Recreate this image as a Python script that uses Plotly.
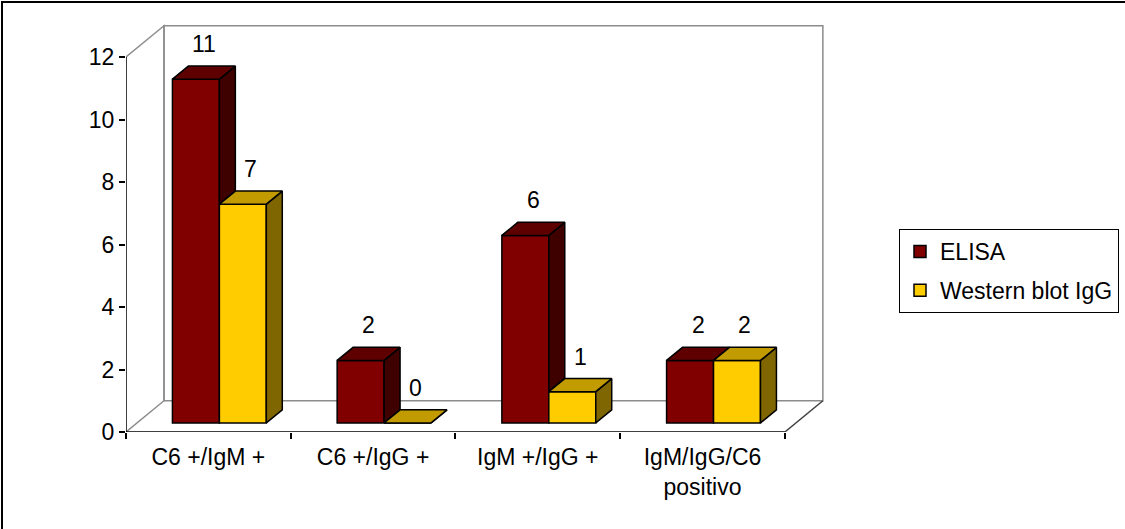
import plotly.graph_objects as go

# ---- data ----
categories = ["C6 +/IgM +", "C6 +/IgG +", "IgM +/IgG +", "IgM/IgG/C6<br>positivo"]
elisa = [11, 2, 6, 2]
western = [7, 0, 1, 2]
y_ticks = [0, 2, 4, 6, 8, 10, 12]

# ---- look ----
FONT = "Liberation Sans, Arial, sans-serif"
FS = 23
RED = dict(front="#800000", top="#5e0000", side="#3f0000")
YEL = dict(front="#FFCC00", top="#C29B00", side="#806600")
WALL = "#8c8c8c"

W, H = 1125, 529
ML, MR, MT, MB = 126, 295, 15, 97
X_RANGE = [-0.5, 3.774]
Y_RANGE = [0, 13.344]

# pseudo-3D depth of the floor (x in category units, y in value units)
DEPTH_X, DEPTH_Y = 0.2307, 1.0
FRONT, BACK = 0.29, 0.71          # bars sit between these depth fractions
BW = 0.285                         # width of one bar

n = len(categories)
ymax = y_ticks[-1]
shift = FRONT * DEPTH_X
base = FRONT * DEPTH_Y
ddx = (BACK - FRONT) * DEPTH_X
ddy = (BACK - FRONT) * DEPTH_Y
bx = [i + shift for i in range(n)]


def top_face(x0, x1, y):
    return [x0, x1, x1 + ddx, x0 + ddx, x0, None], [y, y, y + ddy, y + ddy, y, None]


def side_face(x, y0, y1):
    return [x, x, x + ddx, x + ddx, x, None], [y0, y1, y1 + ddy, y0 + ddy, y0, None]


def face_trace(xs, ys, color):
    return go.Scatter(x=xs, y=ys, mode="lines", fill="toself", fillcolor=color,
                      line=dict(color="black", width=1.5), showlegend=False,
                      hoverinfo="skip")


fig = go.Figure()

# front faces of the bars
fig.add_trace(go.Bar(name="ELISA", x=bx, y=elisa, base=base, width=BW, offset=-BW,
                     marker=dict(color=RED["front"], line=dict(color="black", width=1.5)),
                     legendgroup="a"))
fig.add_trace(go.Bar(name="Western blot IgG", x=bx, y=western, base=base, width=BW, offset=0,
                     marker=dict(color=YEL["front"], line=dict(color="black", width=1.5)),
                     legendgroup="b"))

# tops and visible sides of the ELISA bars
rt_x, rt_y, rs_x, rs_y = [], [], [], []
for i in range(n):
    x0, x1 = bx[i] - BW, bx[i]
    tx, ty = top_face(x0, x1, base + elisa[i])
    rt_x += tx
    rt_y += ty
    if elisa[i] > western[i]:
        sx, sy = side_face(x1, base + western[i], base + elisa[i])
        rs_x += sx
        rs_y += sy
fig.add_trace(face_trace(rs_x, rs_y, RED["side"]))
fig.add_trace(face_trace(rt_x, rt_y, RED["top"]))

# tops and sides of the Western blot bars
yt_x, yt_y, ys_x, ys_y = [], [], [], []
for i in range(n):
    x0, x1 = bx[i], bx[i] + BW
    tx, ty = top_face(x0, x1, base + western[i])
    yt_x += tx
    yt_y += ty
    sx, sy = side_face(x1, base, base + western[i])
    ys_x += sx
    ys_y += sy
fig.add_trace(face_trace(ys_x, ys_y, YEL["side"]))
fig.add_trace(face_trace(yt_x, yt_y, YEL["top"]))

# value labels above the back edge of each bar
annotations = []
for i in range(n):
    for xc, v in ((bx[i] - BW / 2, elisa[i]), (bx[i] + BW / 2, western[i])):
        annotations.append(dict(x=xc + ddx / 2, y=base + v + ddy, text=str(v),
                                xref="x", yref="y", showarrow=False,
                                yanchor="middle", yshift=22,
                                font=dict(family=FONT, size=FS, color="black")))

# walls, floor and axis lines
x_lo, x_hi = -0.5, n - 0.5
shapes = [
    # left wall
    dict(type="path", path=f"M{x_lo},0 L{x_lo + DEPTH_X},{DEPTH_Y} L{x_lo + DEPTH_X},{ymax + DEPTH_Y} L{x_lo},{ymax}",
         line=dict(color=WALL, width=1.5), layer="below"),
    # back wall
    dict(type="rect", x0=x_lo + DEPTH_X, x1=x_hi + DEPTH_X, y0=DEPTH_Y, y1=ymax + DEPTH_Y,
         line=dict(color=WALL, width=1.5), layer="below"),
    # floor right edge
    dict(type="line", x0=x_hi, y0=0, x1=x_hi + DEPTH_X, y1=DEPTH_Y,
         line=dict(color="#404040", width=1.5), layer="below"),
    # value axis and category axis
    dict(type="line", x0=x_lo, y0=0, x1=x_lo, y1=ymax, line=dict(color="black", width=1.5)),
    dict(type="line", x0=x_lo, y0=0, x1=x_hi, y1=0, line=dict(color="black", width=1.5)),
]

# frame around the chart (right and bottom edges fall outside the page)
pw, ph = W - ML - MR, H - MT - MB
def px_x(p):
    return (p - ML) / pw
def px_y(p):
    return (H - MB - p) / ph
shapes.append(dict(type="rect", xref="paper", yref="paper",
                   x0=px_x(2), x1=px_x(W + 20), y0=px_y(H + 20), y1=px_y(2),
                   line=dict(color="black", width=2), fillcolor="rgba(0,0,0,0)"))

fig.update_layout(
    width=W, height=H,
    margin=dict(l=ML, r=MR, t=MT, b=MB, pad=0, autoexpand=False),
    paper_bgcolor="white", plot_bgcolor="white",
    barmode="overlay",
    font=dict(family=FONT, size=FS, color="black"),
    xaxis=dict(range=X_RANGE, tickvals=list(range(n)), ticktext=categories,
               ticks="outside", ticklen=4, tickcolor="rgba(0,0,0,0)",
               showgrid=False, zeroline=False, showline=False,
               tickfont=dict(family=FONT, size=FS)),
    xaxis2=dict(range=X_RANGE, overlaying="x", anchor="y", side="bottom",
                tickvals=[i - 0.5 for i in range(n + 1)], ticks="outside",
                ticklen=6, tickwidth=1.5, tickcolor="black", showticklabels=False,
                showgrid=False, zeroline=False, showline=False),
    yaxis=dict(range=Y_RANGE, tickvals=y_ticks, ticks="outside", ticklen=6,
               tickwidth=1.5, tickcolor="black", showgrid=False, zeroline=False,
               showline=False, tickfont=dict(family=FONT, size=FS)),
    legend=dict(x=px_x(899), y=px_y(229), xanchor="left", yanchor="top",
                bordercolor="black", borderwidth=1, bgcolor="white",
                font=dict(family=FONT, size=FS), traceorder="grouped",
                tracegroupgap=6),
    shapes=shapes,
    annotations=annotations,
)

# invisible trace so the tick-only axis is rendered
fig.add_trace(go.Scatter(x=[x_lo], y=[0], xaxis="x2", mode="markers",
                         marker=dict(opacity=0), showlegend=False, hoverinfo="skip"))

fig.write_html("out.html")
